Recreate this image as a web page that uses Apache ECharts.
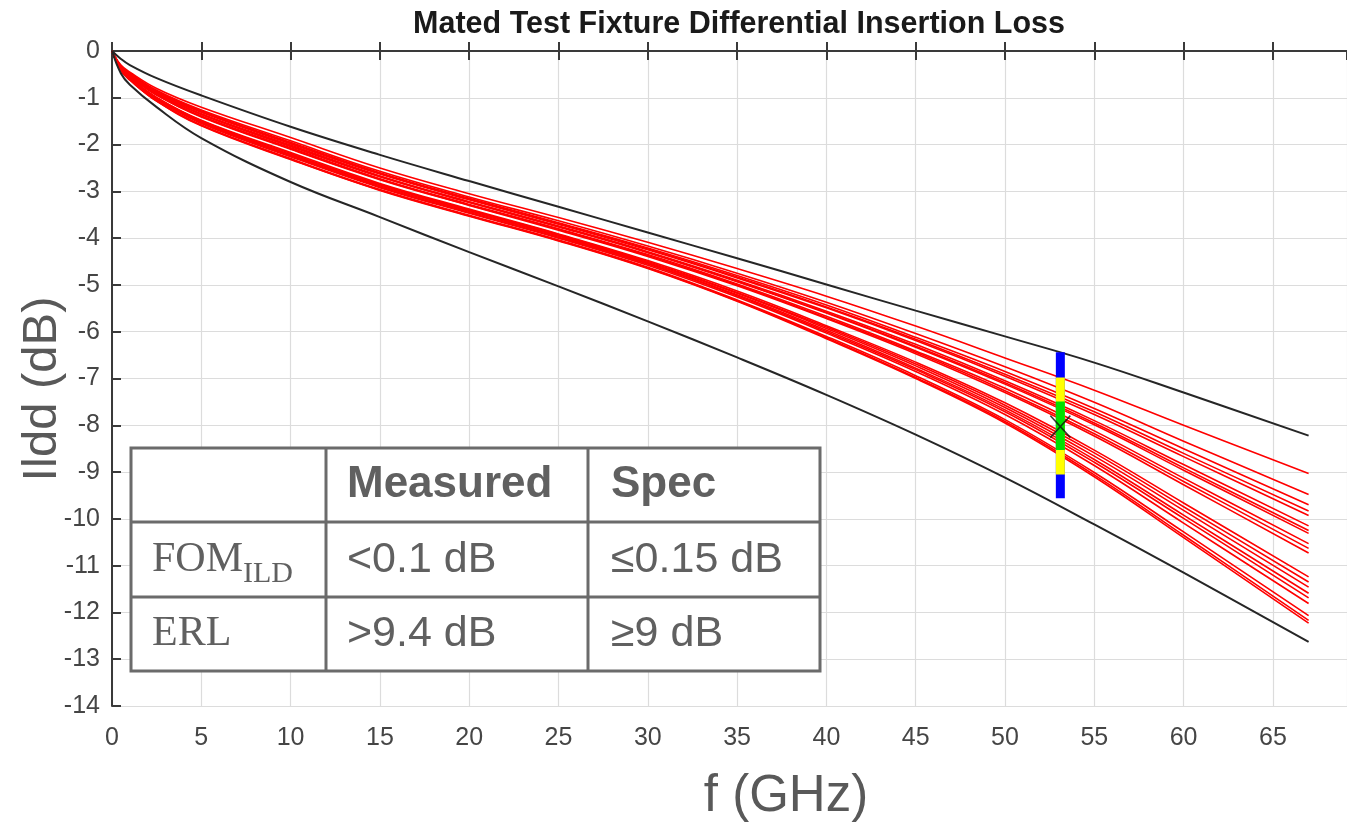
<!DOCTYPE html>
<html>
<head>
<meta charset="utf-8">
<script src="https://cdn.jsdelivr.net/npm/echarts@6/dist/echarts.min.js"></script>
<style>
html,body{margin:0;padding:0;background:#fff;}
#chart{width:1347px;height:822px;}
</style>
</head>
<body>
<div id="chart"></div>
<script>
// ---------- data ----------
const freq = [0, 0.5, 1, 2.5, 5, 10, 15, 20, 25, 30, 35, 40, 45, 50, 55, 60, 67];
const upperLimit = [0, -0.17, -0.30, -0.58, -0.95, -1.62, -2.22, -2.78, -3.33, -3.88, -4.43, -4.99, -5.55, -6.10, -6.66, -7.30, -8.22];
const lowerLimit = [0, -0.48, -0.72, -1.20, -1.86, -2.80, -3.55, -4.30, -5.03, -5.78, -6.55, -7.35, -8.20, -9.12, -10.12, -11.15, -12.63];
const r1  = [0, -0.30, -0.45, -0.80, -1.20, -1.85, -2.50, -3.05, -3.56, -4.09, -4.65, -5.24, -5.88, -6.56, -7.25, -8.00, -9.03];
const r2  = [0, -0.32, -0.47, -0.84, -1.26, -1.92, -2.57, -3.12, -3.63, -4.17, -4.75, -5.37, -6.04, -6.75, -7.51, -8.34, -9.48];
const r3  = [0, -0.33, -0.49, -0.86, -1.28, -1.95, -2.60, -3.15, -3.67, -4.21, -4.80, -5.43, -6.12, -6.85, -7.64, -8.50, -9.70];
const r4  = [0, -0.33, -0.49, -0.87, -1.30, -1.97, -2.62, -3.17, -3.69, -4.23, -4.83, -5.47, -6.16, -6.91, -7.71, -8.60, -9.83];
const r5  = [0, -0.33, -0.50, -0.88, -1.31, -1.98, -2.63, -3.18, -3.70, -4.25, -4.85, -5.49, -6.19, -6.95, -7.77, -8.67, -9.93];
const r6  = [0, -0.34, -0.51, -0.90, -1.34, -2.01, -2.67, -3.22, -3.74, -4.29, -4.90, -5.56, -6.27, -7.05, -7.90, -8.84, -10.15];
const r7  = [0, -0.35, -0.52, -0.90, -1.35, -2.03, -2.68, -3.23, -3.75, -4.30, -4.92, -5.59, -6.31, -7.09, -7.95, -8.91, -10.25];
const r8  = [0, -0.35, -0.52, -0.91, -1.36, -2.04, -2.69, -3.24, -3.76, -4.31, -4.93, -5.60, -6.33, -7.12, -7.99, -8.96, -10.31];
const r9  = [0, -0.36, -0.53, -0.93, -1.39, -2.07, -2.73, -3.28, -3.80, -4.35, -4.98, -5.67, -6.41, -7.21, -8.12, -9.13, -10.53];
const r10 = [0, -0.36, -0.54, -0.94, -1.40, -2.09, -2.74, -3.29, -3.81, -4.37, -5.00, -5.70, -6.44, -7.26, -8.18, -9.20, -10.63];
const r11 = [0, -0.36, -0.54, -0.94, -1.41, -2.10, -2.75, -3.30, -3.83, -4.39, -5.02, -5.72, -6.47, -7.30, -8.23, -9.27, -10.73];
const r12 = [0, -0.38, -0.57, -0.99, -1.48, -2.17, -2.83, -3.38, -3.91, -4.48, -5.13, -5.87, -6.65, -7.52, -8.53, -9.66, -11.24];
const r13 = [0, -0.39, -0.57, -1.00, -1.49, -2.19, -2.85, -3.40, -3.92, -4.50, -5.16, -5.90, -6.69, -7.57, -8.59, -9.74, -11.35];
const r14 = [0, -0.39, -0.58, -1.01, -1.50, -2.21, -2.86, -3.41, -3.94, -4.52, -5.18, -5.93, -6.73, -7.62, -8.66, -9.82, -11.46];
const r15 = [0, -0.40, -0.59, -1.02, -1.52, -2.23, -2.88, -3.43, -3.96, -4.54, -5.21, -5.97, -6.78, -7.67, -8.73, -9.92, -11.59];
const r16 = [0, -0.40, -0.59, -1.02, -1.53, -2.24, -2.90, -3.45, -3.98, -4.55, -5.23, -6.00, -6.81, -7.71, -8.79, -9.99, -11.69];
const r17 = [0, -0.40, -0.60, -1.04, -1.55, -2.26, -2.92, -3.47, -4.00, -4.58, -5.26, -6.03, -6.85, -7.77, -8.86, -10.09, -11.81];
const r18 = [0, -0.41, -0.61, -1.06, -1.58, -2.30, -2.96, -3.51, -4.04, -4.62, -5.32, -6.10, -6.94, -7.88, -9.01, -10.28, -12.07];
const r19 = [0, -0.42, -0.62, -1.07, -1.59, -2.31, -2.97, -3.52, -4.05, -4.64, -5.34, -6.13, -6.98, -7.92, -9.06, -10.35, -12.17];
const r20 = [0, -0.42, -0.62, -1.07, -1.60, -2.32, -2.98, -3.53, -4.06, -4.65, -5.35, -6.15, -7.00, -7.95, -9.10, -10.40, -12.23];
const redCurves = [r1, r2, r3, r4, r5, r6, r7, r8, r9, r10, r11, r12, r13, r14, r15, r16, r17, r18, r19, r20];

const markerFreq = 53.1;
const blueRange = [-6.44, -9.56];
const yellowRange = [-6.98, -9.05];
const greenRange = [-7.49, -8.53];
const crossPoint = [53.1, -8.03];

const titleText = 'Mated Test Fixture Differential Insertion Loss';
const xName = 'f (GHz)';
const yName = 'Ildd (dB)';
const tableHeader = ['', 'Measured', 'Spec'];
const tableRowNames = ['FOM', 'ERL'];
const tableRowSubs = ['ILD', ''];
const tableMeasured = ['<0.1 dB', '>9.4 dB'];
const tableSpec = ['\u22640.15 dB', '\u22659 dB'];

// ---------- chart ----------
const chart = echarts.init(document.getElementById('chart'), null, {renderer: 'canvas'});
const SANS = '"Liberation Sans", Arial, Helvetica, sans-serif';
const SERIF = '"Liberation Serif", "Times New Roman", serif';

function pairs(xs, ys) { return xs.map((x, i) => [x, ys[i]]); }

const series = [];
redCurves.forEach((c, i) => {
  series.push({
    type: 'line', name: 'meas' + (i + 1), data: pairs(freq, c),
    showSymbol: false, symbol: 'none', smooth: 0.4,
    lineStyle: {color: '#ff0000', width: 1.6}, z: 3, silent: true
  });
});
[upperLimit, lowerLimit].forEach((c, i) => {
  series.push({
    type: 'line', name: i ? 'lower' : 'upper', data: pairs(freq, c),
    showSymbol: false, symbol: 'none', smooth: 0.4,
    lineStyle: {color: '#262626', width: 2}, z: 4, silent: true
  });
});
[[blueRange, '#0000ff'], [yellowRange, '#ffff00'], [greenRange, '#00e000']].forEach(([r, col], i) => {
  series.push({
    type: 'line', data: [[markerFreq, r[0]], [markerFreq, r[1]]],
    showSymbol: false, symbol: 'none', lineStyle: {color: col, width: 9, cap: 'butt'}, z: 6 + i, silent: true
  });
});
series.push({
  type: 'scatter', data: [crossPoint], symbol: 'path://M0,0L10,10M10,0L0,10', symbolSize: [20, 22],
  itemStyle: {color: 'none', borderColor: '#111', borderWidth: 1.6}, z: 10, silent: true
});

const axisCommon = {
  type: 'value', min: 0, max: 69.15, interval: 5,
  axisLine: {show: true, lineStyle: {color: '#3a3a3a', width: 2}},
  axisTick: {show: true, inside: true, length: 9, lineStyle: {color: '#3a3a3a', width: 2}}
};

const tbl = {x0: 131, x1: 820, y0: 448, y1: 671, c1: 326, c2: 588, r1: 522, r2: 597};
const rowMid = [485, 560, 634];
const graphics = [
  {type: 'rect', z: 100, shape: {x: tbl.x0, y: tbl.y0, width: tbl.x1 - tbl.x0, height: tbl.y1 - tbl.y0},
   style: {fill: '#ffffff', stroke: '#6b6b6b', lineWidth: 3}},
  {type: 'line', z: 101, shape: {x1: tbl.c1, y1: tbl.y0, x2: tbl.c1, y2: tbl.y1}, style: {stroke: '#6b6b6b', lineWidth: 3}},
  {type: 'line', z: 101, shape: {x1: tbl.c2, y1: tbl.y0, x2: tbl.c2, y2: tbl.y1}, style: {stroke: '#6b6b6b', lineWidth: 3}},
  {type: 'line', z: 101, shape: {x1: tbl.x0, y1: tbl.r1, x2: tbl.x1, y2: tbl.r1}, style: {stroke: '#6b6b6b', lineWidth: 3}},
  {type: 'line', z: 101, shape: {x1: tbl.x0, y1: tbl.r2, x2: tbl.x1, y2: tbl.r2}, style: {stroke: '#6b6b6b', lineWidth: 3}},
  {type: 'text', z: 102, x: 347, y: rowMid[0], style: {text: tableHeader[1], font: 'bold 44px ' + SANS, fill: '#606060', verticalAlign: 'middle'}},
  {type: 'text', z: 102, x: 611, y: rowMid[0], style: {text: tableHeader[2], font: 'bold 44px ' + SANS, fill: '#606060', verticalAlign: 'middle'}},
  // title
  {type: 'text', z: 102, x: 739, y: 25, style: {text: titleText, font: 'bold 30.5px ' + SANS, fill: '#1a1a1a', align: 'center', verticalAlign: 'middle'}},
  // axis names
  {type: 'text', z: 102, x: 786, y: 797, style: {text: xName, font: '51px ' + SANS, fill: '#595959', align: 'center', verticalAlign: 'middle'}},
  {type: 'text', z: 102, x: 42, y: 389, rotation: Math.PI / 2, style: {text: yName, font: '49px ' + SANS, fill: '#595959', align: 'center', verticalAlign: 'middle'}}
];
for (let i = 0; i < 2; i++) {
  const y = rowMid[i + 1];
  graphics.push({type: 'text', z: 102, x: 152, y: y, style: {text: tableRowNames[i], font: '42px ' + SERIF, fill: '#606060', verticalAlign: 'middle'}});
  if (tableRowSubs[i]) {
    graphics.push({type: 'text', z: 102, x: 243, y: y + 14, style: {text: tableRowSubs[i], font: '30px ' + SERIF, fill: '#606060', verticalAlign: 'middle'}});
  }
  graphics.push({type: 'text', z: 102, x: 347, y: y, style: {text: tableMeasured[i], font: '43px ' + SANS, fill: '#606060', verticalAlign: 'middle'}});
  graphics.push({type: 'text', z: 102, x: 611, y: y, style: {text: tableSpec[i], font: '43px ' + SANS, fill: '#606060', verticalAlign: 'middle'}});
}

chart.setOption({
  animation: false,
  backgroundColor: '#ffffff',
  grid: {left: 112, top: 51, right: 0, height: 655, containLabel: false, outerBoundsMode: 'none'},
  xAxis: [
    Object.assign({}, axisCommon, {
      position: 'bottom',
      axisLabel: {show: true, color: '#454545', fontSize: 25, fontFamily: SANS, margin: 20, showMaxLabel: false},
      splitLine: {show: true, lineStyle: {color: '#dcdcdc', width: 1.2}}
    }),
    Object.assign({}, axisCommon, {
      position: 'top', axisLabel: {show: false}, splitLine: {show: false}
    })
  ],
  yAxis: {
    type: 'value', min: -14, max: 0, interval: 1,
    axisLine: {show: true, lineStyle: {color: '#3a3a3a', width: 2}},
    axisTick: {show: true, inside: true, length: 9, lineStyle: {color: '#3a3a3a', width: 2}},
    axisLabel: {show: true, color: '#454545', fontSize: 25, fontFamily: SANS, margin: 12},
    splitLine: {show: true, lineStyle: {color: '#dcdcdc', width: 1.2}}
  },
  series: series,
  graphic: graphics
});
</script>
</body>
</html>
